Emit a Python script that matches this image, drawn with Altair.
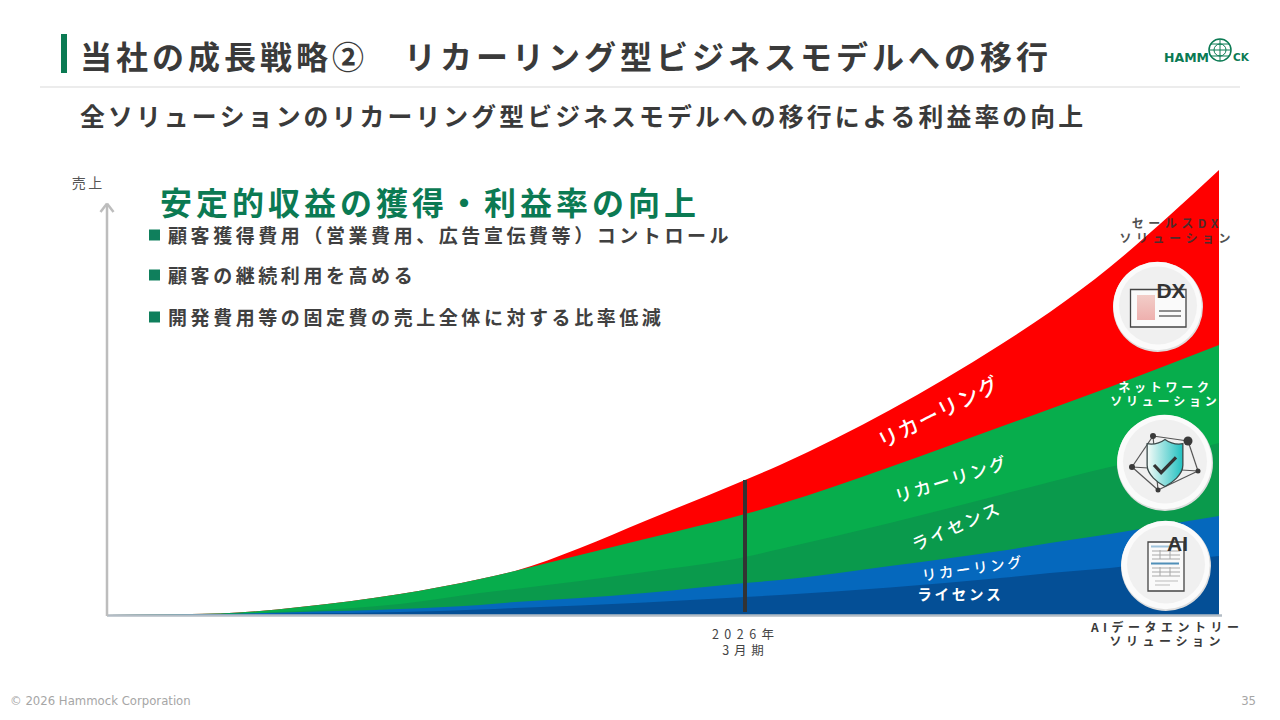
import altair as alt
import pandas as pd

PERIOD = [0, 113, 193, 293, 373, 408, 473, 538, 638, 673, 783, 893, 943, 1003, 1063, 1112]
TOTAL_RED = [0, 1.5, 8, 21, 36, 44, 67, 94, 135, 150, 205, 270, 303, 348, 400, 445]
TOP_GREEN = [0, 1.5, 8, 21, 36, 44, 60, 76, 101, 111, 148, 188, 206, 228, 251, 270]
TOP_DGREEN = [0, 1.2, 4, 11, 22, 26, 34, 43, 58, 66, 92, 120, 133, 148, 160, 172]
TOP_BLUE = [0, 1, 3, 6, 10, 13, 17, 22, 32, 35, 49, 64, 72, 81, 91, 99]
TOP_DBLUE = [0, 0.5, 1.5, 3, 5.5, 7, 9.5, 12.5, 18, 20, 27.5, 37, 42, 47, 54, 59]
SERIES = [("red", TOTAL_RED, "#ff0000"), ("green", TOP_GREEN, "#07ad4c"),
          ("dgreen", TOP_DGREEN, "#0a9a4c"), ("blue", TOP_BLUE, "#0568bd"),
          ("dblue", TOP_DBLUE, "#044f96")]

MARKER_PERIOD = [638]
MARKER_LOW = [3]
MARKER_HIGH = [135]

TITLE = "当社の成長戦略②　リカーリング型ビジネスモデルへの移行"
SUBTITLE = "全ソリューションのリカーリング型ビジネスモデルへの移行による利益率の向上"
HEADING = "安定的収益の獲得・利益率の向上"
BULLETS = ["顧客獲得費用（営業費用、広告宣伝費等）コントロール", "顧客の継続利用を高める", "開発費用等の固定費の売上全体に対する比率低減"]
RECUR = "リカーリング"
LIC = "ライセンス"
SOL = "ソリューション"
FONT = "Noto Sans CJK JP"
DARK = "#3a3a3a"
GREEN = "#0b7a53"

dummy = pd.DataFrame({"a": [0]})
H = "\u200a"


def sp(s, n=1):
    return (H * n).join(s)


def txt(s, x, y, size, color=DARK, weight=700, align="center", angle=0, font=FONT, opacity=1, line=None):
    kw = {"lineHeight": line} if line else {}
    return alt.Chart(dummy).mark_text(text=s, fontSize=size, font=font, fontWeight=weight, color=color,
                                      align=align, baseline="middle", angle=angle, opacity=opacity, **kw).encode(
        x=alt.value(x - 8), y=alt.value(y - 8))


def seg(x1, y1, x2, y2, color=DARK, w=1.0):
    return alt.Chart(dummy).mark_rule(color=color, strokeWidth=w).encode(
        x=alt.value(x1 - 8), x2=alt.value(x2 - 8), y=alt.value(y1 - 8), y2=alt.value(y2 - 8))


def box(x1, y1, x2, y2, fill, stroke=None, w=0):
    kw = {"stroke": stroke, "strokeWidth": w} if stroke else {}
    return alt.Chart(dummy).mark_rect(fill=fill, **kw).encode(
        x=alt.value(x1 - 8), x2=alt.value(x2 - 8), y=alt.value(y1 - 8), y2=alt.value(y2 - 8))


def disc(x, y, r, fill, stroke=None, w=0):
    kw = {"stroke": stroke, "strokeWidth": w} if stroke else {"strokeWidth": 0}
    return alt.Chart(dummy).mark_circle(fill=fill, opacity=1, size=4 * r * r, **kw).encode(
        x=alt.value(x - 8), y=alt.value(y - 8))


def shape(path, x, y, d, fill=None, stroke=None, w=1):
    kw = {}
    if fill is not None:
        kw["fill"] = fill
        kw["filled"] = True
    if stroke is not None:
        kw["stroke"] = stroke
        kw["strokeWidth"] = w
    return alt.Chart(dummy).mark_point(shape=path, size=d * d, opacity=1, **kw).encode(
        x=alt.value(x - 8), y=alt.value(y - 8))


def badge(x, y, r):
    return [disc(x, y, r, "#dedede"), disc(x - 0.5, y - 1, r - 0.8, "#fbfbfb"), disc(x, y - 1.5, r - 6, "#f0f0f0")]


xs = alt.Scale(domain=[0, 1112], range=[99, 1211], nice=False, zero=False)
ys = alt.Scale(domain=[0, 445], range=[607, 162], nice=False, zero=False)

layers = []
for name, vals, col in SERIES:
    df = pd.DataFrame({"period": PERIOD, "value": vals})
    layers.append(alt.Chart(df).mark_area(color=col, interpolate="monotone", opacity=1).encode(
        x=alt.X("period:Q", scale=xs, axis=None), y=alt.Y("value:Q", scale=ys, axis=None)))

mk = pd.DataFrame({"period": MARKER_PERIOD, "low": MARKER_LOW, "high": MARKER_HIGH})
layers.append(alt.Chart(mk).mark_rule(color="#333333", strokeWidth=4).encode(
    x=alt.X("period:Q", scale=xs, axis=None), y=alt.Y("low:Q", scale=ys, axis=None), y2="high:Q"))

# axes
layers += [seg(107, 615.5, 1222, 615.5, "#b3bcc5", 2.5), seg(107, 205, 107, 616, "#bdbdbd", 2.5),
           seg(100.5, 212, 107, 203.5, "#bdbdbd", 2.5), seg(113.5, 212, 107, 203.5, "#bdbdbd", 2.5)]

# header
layers += [box(61, 34, 67, 73, GREEN), seg(40, 87, 1240, 87, "#e6e6e6", 1.5),
           txt(sp(TITLE, 2), 80, 59, 32, align="left"),
           txt(sp(SUBTITLE, 2), 80, 119, 24.85, align="left"),
           txt(sp(HEADING, 2), 160, 205, 32, GREEN, align="left")]

# logo
layers += [txt("HAMM", 1164, 58, 12.5, GREEN, 700, "left", font="DejaVu Sans"),
           txt("CK", 1233, 58, 10.5, GREEN, 700, "left", font="DejaVu Sans"),
           disc(1220, 50, 11, "#ffffff", GREEN, 1.5), disc(1220, 50, 6, "#ffffff", GREEN, 1),
           seg(1209, 50, 1231, 50, GREEN, 1), seg(1220, 39, 1220, 61, GREEN, 1),
           seg(1211, 44, 1229, 44, GREEN, 1), seg(1211, 56, 1229, 56, GREEN, 1)]

# bullets
for s, y in zip(BULLETS, [235, 275, 317]):
    layers += [box(149, y - 5.5, 160, y + 5.5, "#0f7f5c"), txt(sp(s, 3), 168, y + 1.5, 19, "#404040", align="left")]

layers.append(txt(sp("売上", 3), 87, 184, 14, "#555555", 400))

# area labels
layers += [txt(sp(RECUR), 939, 414, 21, "#ffffff", 500, angle=333),
           txt(sp(RECUR, 2), 951, 481, 17.5, "#ffffff", 500, angle=342.5),
           txt(sp(LIC, 2), 956, 528, 17, "#ffffff", 500, angle=336),
           txt(sp(RECUR, 3), 972, 570, 14.5, "#ffffff", 500, angle=352),
           txt(sp(LIC, 3), 959, 596, 14.5, "#ffffff", 700)]

# marker labels
layers.append(txt([sp("2026年", 7), sp("3月期", 6)], 743, 635, 12.5, "#444444", 400, line=16))

# DX icon
layers += badge(1158, 307, 45)
layers += [box(1130.5, 289.5, 1186, 327, "#fafafa", "#444444", 1.3),
           alt.Chart(dummy).mark_rect(fill=alt.Gradient(gradient="linear", x1=0, y1=0, x2=0, y2=1,
               stops=[alt.GradientStop(color="#f2cdc8", offset=0), alt.GradientStop(color="#eeb0ae", offset=1)])).encode(
               x=alt.value(1137 - 8), x2=alt.value(1155 - 8), y=alt.value(295 - 8), y2=alt.value(320 - 8)),
           seg(1159, 311, 1181, 311, "#444444", 1.2), seg(1159, 316, 1181, 316, "#444444", 1.2),
           txt("DX", 1171, 292, 21, "#333333", 700, font="Liberation Sans")]

# network icon
NODES = [(1153, 436), (1188, 441), (1132, 467), (1198, 471), (1158, 490)]
layers += badge(1165, 463, 48)
for a, b in [(0, 2), (2, 4), (0, 1), (1, 3), (3, 4), (2, 3), (0, 4)]:
    layers.append(seg(NODES[a][0], NODES[a][1], NODES[b][0], NODES[b][1], "#555555", 1.2))
for (x, y), r in zip(NODES, [3, 4.5, 3, 2.5, 2.5]):
    layers.append(disc(x, y, r, "#3a3a3a"))
SHIELD = "M0,-1 C-0.25,-0.82 -0.5,-0.78 -0.76,-0.82 L-0.76,0.1 C-0.76,0.5 -0.3,0.85 0,1 C0.3,0.85 0.76,0.5 0.76,0.1 L0.76,-0.82 C0.5,-0.78 0.25,-0.82 0,-1 Z"
CHECK = "M-1,0 L-0.35,0.7 L1,-0.7"
layers += [shape(SHIELD, 1165, 463, 47, alt.Gradient(gradient="linear", x1=0, y1=0, x2=1, y2=0,
                 stops=[alt.GradientStop(color="#f5fbf8", offset=0), alt.GradientStop(color="#20c0c0", offset=1)]),
                 "#3a4a4a", 1.3),
           shape(CHECK, 1165, 465, 22, None, "#333333", 3.2)]

# AI icon
layers += badge(1166, 566, 45)
layers += [box(1148, 542, 1184, 591, "#fafafa", "#444444", 1.3),
           box(1151, 545.5, 1178, 547.5, "#9fc3dc"), box(1151, 562.5, 1179, 564.5, "#4f8fb8")]
for y in [551, 555, 559, 568, 572, 576]:
    layers.append(seg(1152, y, 1180, y, "#a8a8a8", 1))
for x in [1160, 1170]:
    layers += [seg(x, 550, x, 559, "#a8a8a8", 1), seg(x, 567, x, 576, "#a8a8a8", 1)]
layers += [seg(1155, 581, 1178, 581, "#bbbbbb", 1), seg(1155, 585, 1170, 585, "#bbbbbb", 1),
           txt("AI", 1177.5, 545, 21, "#333333", 700, font="Liberation Sans")]

# solution labels
layers += [txt([sp("セールスDX", 6), sp(SOL, 6)], 1175, 224, 12, "#333333", 700, opacity=0.85, line=15),
           txt([sp("ネットワーク", 5), sp(SOL, 5)], 1163.5, 388, 12, "#ffffff", 700, line=14),
           txt([sp("AIデータエントリー", 6), sp(SOL, 6)], 1165, 628, 12, "#3a3a3a", 700, line=14)]

# footer
layers += [txt("© 2026 Hammock Corporation", 10, 701, 11.7, "#a6a6a6", 400, "left", font="DejaVu Sans"),
           txt("35", 1256, 701, 11.7, "#a6a6a6", 400, "right", font="DejaVu Sans")]

chart = alt.layer(*layers).properties(
    width=1264, height=704, padding=0, autosize=alt.AutoSizeParams(type="none"), background="#ffffff"
).configure_view(stroke=None)

chart.save("out.html", embed_options={"renderer": "svg", "actions": False})
